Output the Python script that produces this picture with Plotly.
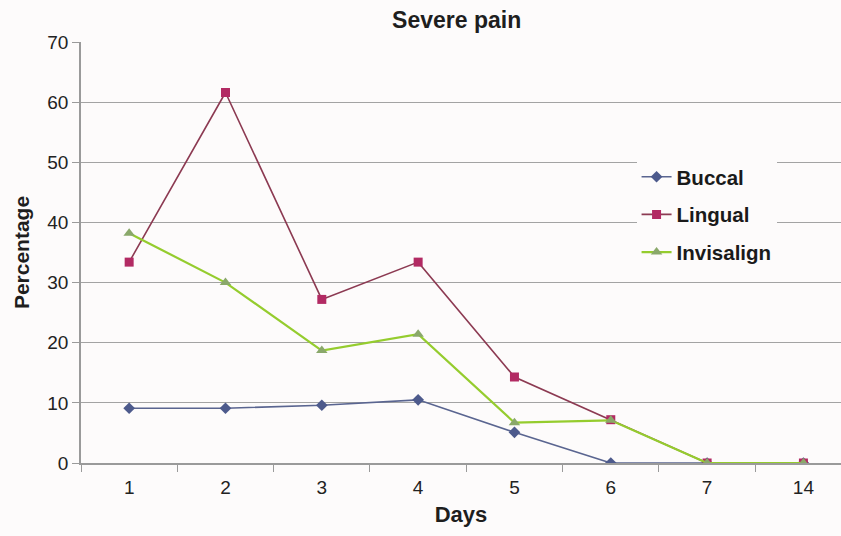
import plotly.graph_objects as go

days = ["1", "2", "3", "4", "5", "6", "7", "14"]
buccal = [9.1, 9.1, 9.6, 10.5, 5.1, 0, 0, 0]
lingual = [33.4, 61.6, 27.2, 33.4, 14.3, 7.2, 0, 0]
invisalign = [38.2, 30.0, 18.7, 21.4, 6.7, 7.1, 0, 0]
y_ticks = [0, 10, 20, 30, 40, 50, 60, 70]

FONT = "Liberation Sans, Arial, sans-serif"

fig = go.Figure()
fig.add_trace(go.Scatter(
    x=days, y=buccal, name="<b>Buccal</b>", mode="lines+markers", legendgroup="a",
    line=dict(color="#5a6590", width=1.6),
    marker=dict(symbol="diamond", size=9, color="#4d5a8c"),
))
fig.add_trace(go.Scatter(
    x=days, y=lingual, name="<b>Lingual</b>", mode="lines+markers", legendgroup="b",
    line=dict(color="#8c3a52", width=1.6),
    marker=dict(symbol="square", size=9, color="#b22a63"),
))
fig.add_trace(go.Scatter(
    x=days, y=invisalign, name="<b>Invisalign</b>", mode="lines+markers", legendgroup="c",
    line=dict(color="#95cc2e", width=2.2),
    marker=dict(symbol="triangle-up", size=10, color="#8aa86a"),
))

fig.update_layout(
    width=841, height=536,
    margin=dict(l=81, r=0, t=42, b=73),
    paper_bgcolor="#fdfbfb",
    plot_bgcolor="#fdfbfb",
    font=dict(family=FONT, color="#222222", size=19),
    title=dict(text="<b>Severe pain</b>", x=0.543, xanchor="center",
               y=0.963, yanchor="middle", font=dict(size=23, family=FONT, color="#1e1e1e")),
    showlegend=True,
    legend=dict(
        x=0.731, y=0.727, xanchor="left", yanchor="top",
        bgcolor="#fdfbfb", font=dict(size=20.5, family=FONT, color="#1a1a1a"),
        traceorder="grouped", tracegroupgap=8, itemwidth=30,
    ),
    xaxis=dict(
        type="category", range=[-0.5, 7.39],
        showgrid=False, showline=True, linecolor="#9a9a9a", linewidth=1.5,
        ticks="outside", tickson="boundaries", ticklen=7, tickcolor="#9a9a9a",
        tickfont=dict(size=19), zeroline=False, ticklabelstandoff=6,
        title=dict(text="<b>Days</b>", font=dict(size=22, color="#1e1e1e"), standoff=10),
    ),
    yaxis=dict(
        range=[0, 70], tickvals=y_ticks,
        showgrid=True, gridcolor="#a3a3a3", gridwidth=1.3,
        showline=True, linecolor="#9a9a9a", linewidth=1.5,
        ticks="outside", ticklen=7, tickcolor="#9a9a9a",
        tickfont=dict(size=19), zeroline=False,
        title=dict(text="<b>Percentage</b>", font=dict(size=21, color="#1e1e1e"), standoff=12),
    ),
)

fig.write_html("out.html")
